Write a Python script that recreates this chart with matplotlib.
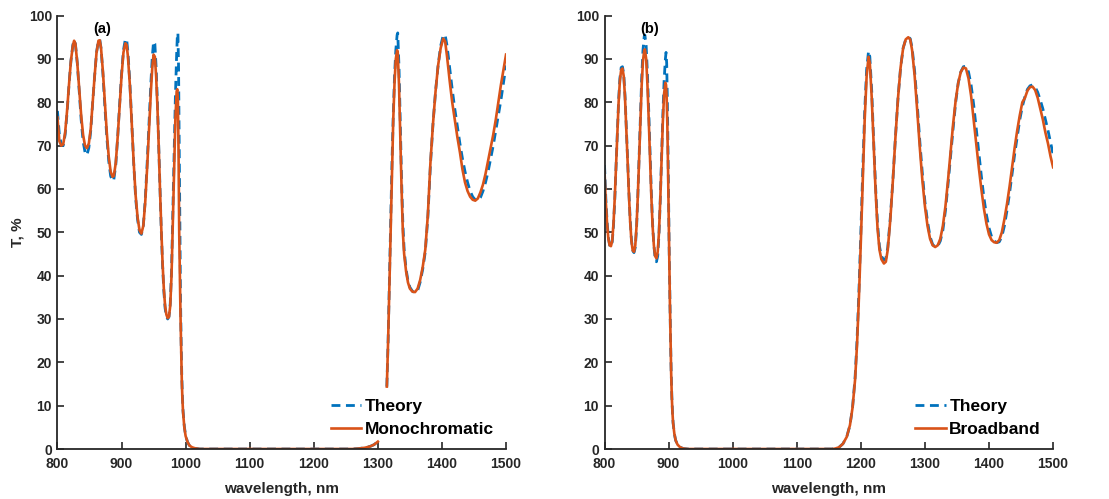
import numpy as np
import matplotlib
matplotlib.use("Agg")
import matplotlib.pyplot as plt

nan = float("nan")

# ---------------- panel (a) ----------------
wl_a = [800,803,806,809,812,815,818,821,824,826,
        828,831,834,837,840,843,846,849,852,855,
        858,861,864,866,868,871,874,877,880,883,
        886,888,891,894,897,900,903,906,908,910,
        913,916,919,922,925,928,931,934,937,940,
        943,946,948,950,952,954,956,958,960,962,
        964,966,968,970,972,974,976,978,980,982,
        984,986,987,988,989,990,991,992,993,994,
        995,996,998,1000,1003,1006,1010,1015,1022,1100,
        1200,1260,1270,1280,1288,1294,1300,1307,1314,1316,
        1318,1320,1322,1324,1326,1328,1330,1331,1333,1335,
        1337,1339,1341,1344,1347,1350,1354,1358,1362,1366,
        1370,1374,1378,1382,1386,1390,1394,1398,1402,1405,
        1408,1412,1416,1420,1424,1428,1432,1436,1440,1444,
        1448,1452,1456,1460,1464,1468,1472,1476,1480,1484,
        1488,1492,1496,1500]

theory_a = [78,72.5,70.3,70,72.5,77.5,84,89.5,93.2,94.3,
            93.5,89,82.5,76,71,68.5,67.8,69.5,73.5,80,
            86,91.5,94.3,94.5,92.5,86.5,79,72,66.5,63,
            61.8,62.2,65.5,72,79.5,86.5,92,94.6,94.5,91.5,
            84.5,75,66,58,53,50,49.5,51.5,57.5,66,
            75.5,85,90.5,94,93.5,88,80,70,60,50.5,
            42.5,36.5,32.5,30.5,30,30.5,33.5,41,54,68,
            81,91,95,96,88,70,50,35,25,17,
            12,8.8,5.2,3.1,1.6,0.8,0.4,0.15,0,0,
            0,0,0.1,0.3,0.6,1.0,1.7,nan,14.4,25,
            38.5,52.5,66,77,86,92,95.5,96,88,75,
            62,52,46,41.5,38.8,37.3,36.4,36,36.5,38.5,
            41.5,45.5,53.5,65.5,75,82.5,88.5,93,95.5,95.5,
            93,88,83,78.5,74.5,70.5,67,64,61.5,59.5,
            58.2,57.5,57.3,58,59.5,61.5,64,67,70,73.5,
            77,80.5,84.5,88.5]

mono_a = [76.5,71,70,70.3,73,78,84,89.5,93,94.2,
          93.5,89,83,77,72.5,70,69.4,70.5,74,80,
          86,91.5,94.2,94.3,92.5,87,80,73,67.5,64,
          62.8,63,66,72,79,86,91.5,93.6,93.2,90.5,
          84,75,66,58.5,53.5,50.5,49.7,51.5,57,65,
          74,83,88,91,90.5,86,79,70,60,51,
          43,37,33,31,30.2,30.5,33,40,52,65,
          76,82.5,83,80,68,50,40,31,23,16,
          11.5,8.5,5,3,1.6,0.8,0.4,0.15,0,0,
          0,0,0.1,0.3,0.6,1.0,1.7,nan,14.4,25,
          38,52,65,76,84.5,90,92,91.5,84,72,
          60,50,45,41,38.4,37,36.3,36.2,37,39,
          42,46,54,66,75,82.5,88.5,92.5,94.7,94,
          90.5,85,80,76,72,68.5,64.5,61.5,59.5,58.2,
          57.5,57.3,57.8,59.2,61,63.5,66.5,69.5,72.5,76,
          80,84,87.5,91]

# ---------------- panel (b) ----------------
wl_b = [800,802,804,806,808,810,812,814,816,818,
        820,822,824,826,828,830,832,834,836,838,
        840,842,844,846,848,850,852,854,856,858,
        860,862,863,865,867,869,871,873,875,877,
        879,881,883,885,887,889,891,893,895,896,
        897,898,899,900,901,902,903,904,905,906,
        907,909,911,914,918,923,930,1000,1100,1155,
        1160,1166,1172,1178,1183,1187,1191,1194,1197,1200,
        1203,1206,1209,1212,1214,1217,1220,1223,1226,1229,
        1232,1236,1239,1242,1246,1250,1254,1258,1262,1266,
        1270,1274,1277,1280,1284,1288,1292,1296,1300,1304,
        1308,1312,1316,1320,1324,1328,1332,1336,1340,1344,
        1348,1352,1356,1360,1364,1368,1372,1376,1380,1384,
        1388,1392,1396,1400,1404,1408,1412,1416,1420,1424,
        1428,1432,1436,1440,1444,1448,1452,1456,1460,1464,
        1468,1472,1476,1480,1484,1488,1492,1496,1500]

theory_b = [65.5,58,52.5,48.8,47,46.6,47.8,51.5,57.5,65,
            73,80.5,85.5,88,88.2,86.5,81.5,74.5,67,59.5,
            53,48.3,45.8,45.3,46.5,51,58.5,67.5,77,85.5,
            92,95.2,95.5,93,86.5,78,68.5,59.5,52,47,
            44,43.2,44.5,49.5,57.5,67,77,85,90,91.5,
            89,81,70,57,45,34.5,25.5,18,12.3,8.7,
            6.1,3.5,2,1,0.4,0.1,0,0,0,0,
            0.1,0.4,1.2,2.8,5.5,9.5,16.5,25,36.5,50,
            64.5,78,87.5,91.8,90.5,82.5,71,60.5,52,46.8,
            44.5,43.6,44,46.5,53.5,62,72,81,88,92.5,
            94.5,95,94.7,92.5,87,79.5,71,63.5,57,52.5,
            49,47.2,46.6,46.8,48,50.5,55,61,67.5,74,
            80,84.5,87,88.2,88.3,87,84,79.5,74,68.5,
            63,58,54,51,49,48,47.6,47.8,49,51.5,
            55,59,63.5,68,72,76,79,81.3,83,83.8,
            84,83.5,82.3,80.5,78.5,76,73.5,70.8,68]

broad_b = [64,57,52,48.5,47,46.8,48,52,58,65.5,
           73,80,85,87.5,87.8,86,81,74,66.5,59,
           52.5,48,45.8,45.5,47,51.5,58.5,67,76,84,
           89.5,92,92.2,90,84,76,67,58.5,51.5,47,
           44.5,44,45.5,50,57.5,66.5,75.5,82,84.5,84,
           81,75,66,55,44,34,25,17.5,12,8.5,
           6,3.5,2,1,0.4,0.1,0,0,0,0,
           0.1,0.4,1.2,2.8,5.5,9.5,16,24,35,48,
           62,76,86,90.5,89,81,70,59.5,51,46,
           43.8,42.8,43.2,46,53,62,72,81,88,92.5,
           94.5,95,94.5,92,86,78,69.5,62,56,51.5,
           48.5,47,46.6,47,48.5,51.5,56,62,68.5,75,
           80.5,84.5,87,88,87.8,85.5,81.5,76,70.5,65,
           60,55.5,52,49.5,48.2,47.7,47.6,48.2,50,53,
           56.5,60.5,65,69.5,73.5,77,80,81,82.7,83.5,
           83.6,82.8,81,78.5,76,73,70.5,67.5,65]

xticks = [800, 900, 1000, 1100, 1200, 1300, 1400, 1500]
yticks = [0, 10, 20, 30, 40, 50, 60, 70, 80, 90, 100]

BLUE = "#0072BD"
ORANGE = "#D95319"
DARK = "#262626"

plt.rcParams["font.family"] = ["Liberation Sans", "DejaVu Sans"]
plt.rcParams["font.weight"] = "bold"

fig = plt.figure(figsize=(11.09, 4.99), dpi=100)
axA = fig.add_axes([0.0518, 0.1002, 0.4045, 0.8686])
axB = fig.add_axes([0.5451, 0.1002, 0.4045, 0.8686])

panels = [(axA, wl_a, theory_a, mono_a, "Monochromatic", "(a)"),
          (axB, wl_b, theory_b, broad_b, "Broadband", "(b)")]

for ax, wl, th, ex, lab, tag in panels:
    ax.plot(wl, th, color=BLUE, lw=2.0, ls=(0, (3.2, 2.0)), label="Theory")
    ax.plot(wl, ex, color=ORANGE, lw=1.9, label=lab)
    ax.set_xlim(800, 1500)
    ax.set_ylim(0, 100)
    ax.set_xticks(xticks)
    ax.set_yticks(yticks)
    for s in ("top", "right"):
        ax.spines[s].set_visible(False)
    for s in ("left", "bottom"):
        ax.spines[s].set_color(DARK)
        ax.spines[s].set_linewidth(1.3)
    ax.tick_params(direction="in", length=5, width=1.2, colors=DARK,
                   labelsize=10)
    ax.tick_params(axis="x", pad=5.5)
    ax.tick_params(axis="y", pad=4)
    for t in ax.get_xticklabels() + ax.get_yticklabels():
        t.set_fontweight("bold")
    ax.set_xlabel("wavelength, nm", fontsize=11, fontweight="bold",
                  color=DARK, labelpad=8)
    ax.text(870, 97, tag, ha="center", va="center", fontsize=10.5,
            fontweight="bold", color="black")
    leg = ax.legend(loc="lower right", bbox_to_anchor=(1.0, 0.0),
                    frameon=False, fontsize=12.5, handlelength=1.75,
                    handletextpad=0.2, labelspacing=0.45, borderaxespad=0.3)
    for t in leg.get_texts():
        t.set_fontweight("bold")

axA.set_ylabel("T, %", fontsize=11, fontweight="bold", color=DARK, labelpad=3)

fig.savefig("out.png", dpi=100)
